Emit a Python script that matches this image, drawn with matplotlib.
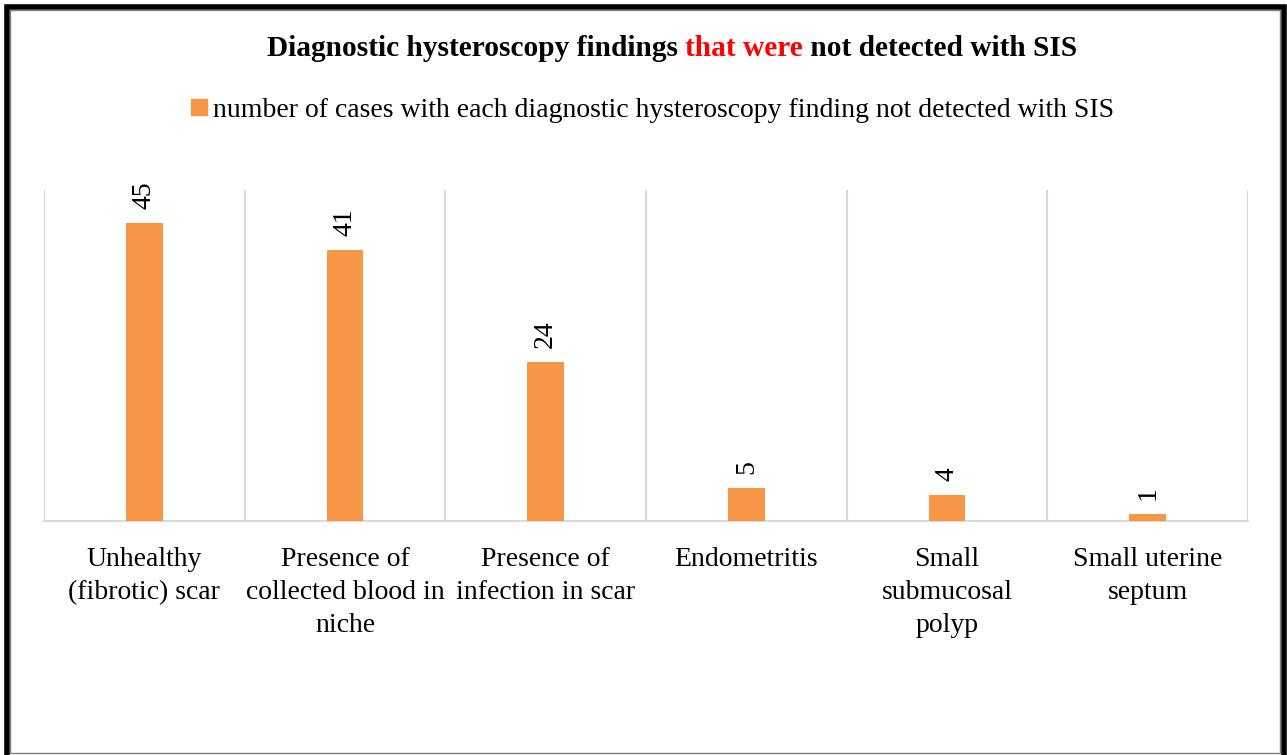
import matplotlib
matplotlib.use("Agg")
import matplotlib.pyplot as plt
from matplotlib.patches import Rectangle
from matplotlib.lines import Line2D

categories = [
    "Unhealthy\n(fibrotic) scar",
    "Presence of\ncollected blood in\nniche",
    "Presence of\ninfection in scar",
    "Endometritis",
    "Small\nsubmucosal\npolyp",
    "Small uterine\nseptum",
]
cases = [45, 41, 24, 5, 4, 1]
series_name = "number of cases with each diagnostic hysteroscopy finding not detected with SIS"

BAR_COLOR = "#F79646"
GRID_COLOR = "#D9D9D9"

plt.rcParams["font.family"] = ["Liberation Serif", "DejaVu Serif"]

fig = plt.figure(figsize=(12.87, 7.55), dpi=100)
ax = fig.add_axes([44 / 1287, 234 / 755, 1204 / 1287, 331 / 755])

x = list(range(len(categories)))
bars = ax.bar(x, cases, width=0.184, color=BAR_COLOR, zorder=3)

for b, v in zip(bars, cases):
    ax.annotate(str(v), (b.get_x() + b.get_width() / 2, v), xytext=(0, 10),
                textcoords="offset points", rotation=90, ha="center", va="bottom",
                fontsize=20)

ax.set_xlim(-0.5, len(categories) - 0.5)
ax.set_ylim(0, 50)
ax.set_yticks([])
ax.set_xticks(x)
ax.set_xticklabels(categories, fontsize=20, linespacing=1.4)
ax.tick_params(axis="x", length=0, pad=19)

for b in [i - 0.5 for i in range(len(categories) + 1)]:
    ax.axvline(b, color=GRID_COLOR, lw=1.5, zorder=1)

for s in ["top", "left", "right"]:
    ax.spines[s].set_visible(False)
ax.spines["bottom"].set_color(GRID_COLOR)
ax.spines["bottom"].set_linewidth(1.5)

# title with a red middle part
fig.canvas.draw()
r = fig.canvas.get_renderer()
parts = [("Diagnostic hysteroscopy findings ", "black"),
         ("that were", "red"),
         (" not detected with SIS", "black")]
texts = [fig.text(0, 1 - 48 / 755, p, fontsize=21.2, fontweight="bold", color=c, va="center")
         for p, c in parts]
widths = [t.get_window_extent(r).width for t in texts]
cur = 672 - sum(widths) / 2
for t, w in zip(texts, widths):
    t.set_x(cur / 1287)
    cur += w

handle = Line2D([], [], marker="s", color=BAR_COLOR, linestyle="none", markersize=11)
fig.legend([handle], [series_name], loc="center", bbox_to_anchor=(0.5047, 1 - 110 / 755),
           frameon=False, fontsize=20, handletextpad=0.0, handlelength=1.0)

# chart border
fig.patches.append(Rectangle((7 / 1287, -10 / 755), 1277 / 1287, 758 / 755,
                             transform=fig.transFigure, fill=False, edgecolor="black",
                             linewidth=4, zorder=10))
fig.patches.append(Rectangle((10 / 1287, 2 / 755), 1270 / 1287, 743 / 755,
                             transform=fig.transFigure, fill=False, edgecolor="#808080",
                             linewidth=1, zorder=10))

fig.savefig("out.png", dpi=100)
